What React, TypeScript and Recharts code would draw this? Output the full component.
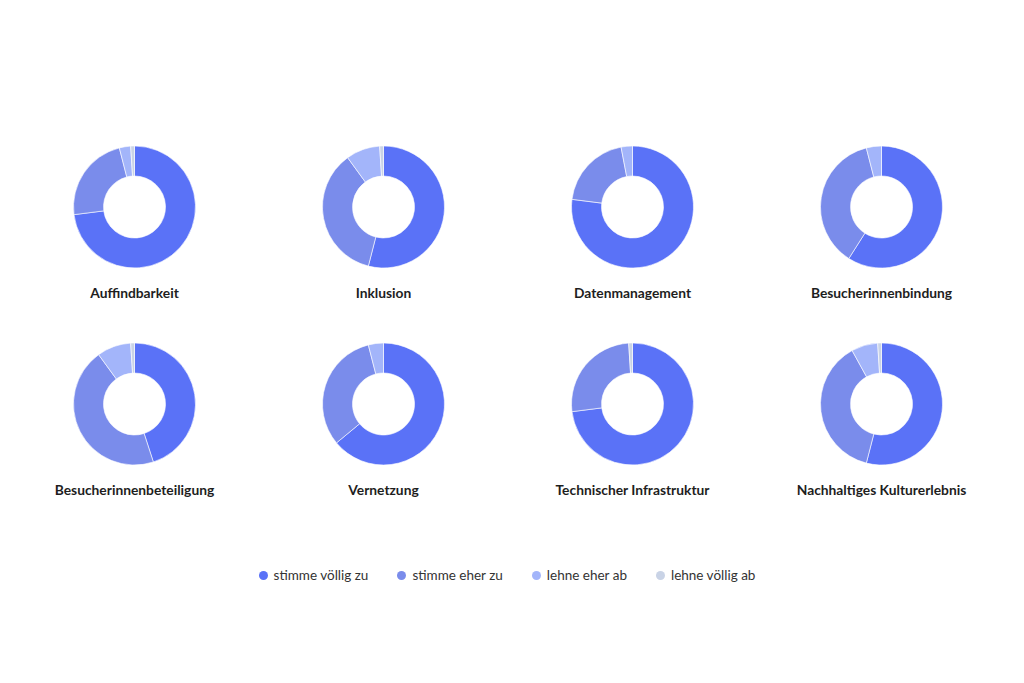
import { PieChart, Pie, Cell } from 'recharts'

const answers = ['stimme völlig zu', 'stimme eher zu', 'lehne eher ab', 'lehne völlig ab']
const colors = ['#5a72f7', '#7a8ceb', '#a3b5fa', '#c9d3e6']

const topics = [
  'Auffindbarkeit',
  'Inklusion',
  'Datenmanagement',
  'Besucherinnenbindung',
  'Besucherinnenbeteiligung',
  'Vernetzung',
  'Technischer Infrastruktur',
  'Nachhaltiges Kulturerlebnis',
]

// percentages per topic, in the order of `answers`
const voelligZu = [73, 54, 77, 59, 45, 64, 73, 54]
const eherZu = [23, 36, 20, 37, 45, 32, 26, 38]
const eherAb = [3, 9, 3, 4, 9, 4, 0, 7]
const voelligAb = [1, 1, 0, 0, 1, 0, 1, 1]

const CELL_W = 249
const ROW_H = 197

function Donut({ idx }: { idx: number }) {
  const data = [voelligZu, eherZu, eherAb, voelligAb].map((s, i) => ({ name: answers[i], value: s[idx] }))
  return (
    <div style={{ width: CELL_W, height: ROW_H, display: 'flex', flexDirection: 'column', alignItems: 'center' }}>
      <PieChart width={CELL_W} height={140} margin={{ top: 0, right: 0, bottom: 0, left: 0 }}>
        <Pie
          data={data}
          dataKey="value"
          nameKey="name"
          cx="50%"
          cy={70}
          innerRadius={31}
          outerRadius={61}
          startAngle={90}
          endAngle={-270}
          stroke="#ffffff"
          strokeWidth={0.6}
          isAnimationActive={false}
        >
          {data.map((d, i) => <Cell key={d.name} fill={colors[i]} />)}
        </Pie>
      </PieChart>
      <div style={{ marginTop: 8, fontSize: 13.8, fontWeight: 700, color: '#1e1e1e', lineHeight: '16px', whiteSpace: 'nowrap' }}>
        {topics[idx]}
      </div>
    </div>
  )
}

export default function App() {
  return (
    <div style={{ position: 'relative', width: 1024, height: 683, background: '#fff', fontFamily: 'Lato, "Open Sans", sans-serif', overflow: 'hidden' }}>
      <style>{'body{margin:0}'}</style>
      <div style={{ position: 'absolute', left: 10, top: 137, display: 'flex', flexWrap: 'wrap', width: CELL_W * 4 }}>
        {topics.map((t, i) => <Donut key={t} idx={i} />)}
      </div>
      <div style={{ position: 'absolute', left: 0, top: 567, width: 1014, display: 'flex', justifyContent: 'center', gap: 29, fontSize: 13.5, color: '#333' }}>
        {answers.map((a, i) => (
          <div key={a} style={{ display: 'flex', alignItems: 'center', gap: 6 }}>
            <span style={{ width: 9, height: 9, borderRadius: '50%', background: colors[i], display: 'inline-block' }} />
            <span>{a}</span>
          </div>
        ))}
      </div>
    </div>
  )
}
